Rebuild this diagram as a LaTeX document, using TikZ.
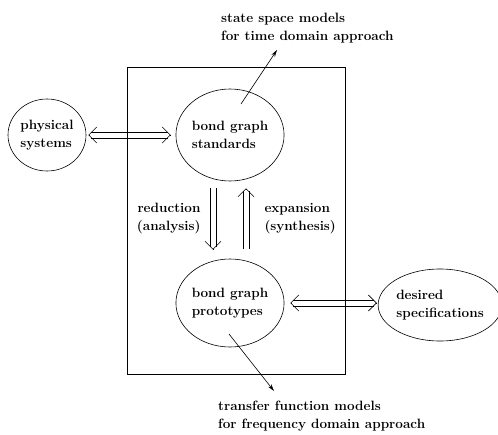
\documentclass[tikz,border=0pt]{standalone}
\usepackage{tikz}
\usetikzlibrary{arrows.meta, positioning, shapes.geometric, calc}

\begin{document}
\begin{tikzpicture}[x=1pt,y=-1pt,
  every node/.style={font=\fontsize{13.5}{18}\bfseries\selectfont},
  blob/.style={draw,ellipse,inner sep=0pt,align=left,line width=0.6pt},
  rail/.style={line width=0.6pt},
  twinhead/.style={line width=0.6pt,-{Straight Barb[length=8pt,width=16pt]}},
  pointer/.style={line width=0.6pt,-{Stealth[length=7pt,width=4pt]}},
  remark/.style={align=left,inner sep=0pt,anchor=north west}]
\useasboundingbox (0,0) rectangle (498,434);
\node[blob,minimum width=78pt,minimum height=72pt] (phys) at (47,135) {physical\\systems};
\node[blob,minimum width=98pt,minimum height=92pt] (std) at (230,135) {bond graph\\standards};
\node[blob,minimum width=98pt,minimum height=88pt] (proto) at (230,303) {bond graph\\prototypes};
\node[blob,minimum width=114pt,minimum height=72pt] (spec) at (440,305) {desired\\specifications};
\node[remark] (ssm) at (221,13) {state space models\\for time domain approach};
\node[remark] (tfm) at (218,401) {transfer function models\\for frequency domain approach};
% end points of the double arrows
\coordinate (ps1) at ($(phys.east)+(2,0)$);
\coordinate (ps2) at ($(std.west)+(-5,0)$);
\coordinate (pd1) at ($(proto.east)+(6,0)$);
\coordinate (pd2) at ($(proto.east -| spec.west)+(-1,0)$);
\coordinate (red1) at ($(std.south)+(-17,7)$);
\coordinate (red2) at ($(proto.north)+(-17,-9)$);
\coordinate (exp1) at ($(proto.north)+(16,-10)$);
\coordinate (exp2) at ($(std.south)+(16,7)$);
% double arrows
\foreach \s in {-3.2,3.2} {
  \draw[rail] ($(ps1)+(3,\s)$) -- ($(ps2)+(-3,\s)$);
  \draw[rail] ($(pd1)+(3,\s)$) -- ($(pd2)+(-3,\s)$);
  \draw[rail] ($(red1)+(\s,0)$) -- ($(red2)+(\s,-3)$);
  \draw[rail] ($(exp1)+(\s,0)$) -- ($(exp2)+(\s,3)$);
}
\draw[twinhead] ($(ps2)!0.3pt!(ps1)$) -- (ps2);
\draw[twinhead] ($(ps1)!0.3pt!(ps2)$) -- (ps1);
\draw[twinhead] ($(pd2)!0.3pt!(pd1)$) -- (pd2);
\draw[twinhead] ($(pd1)!0.3pt!(pd2)$) -- (pd1);
\draw[twinhead] ($(red2)!0.3pt!(red1)$) -- (red2);
\draw[twinhead] ($(exp2)!0.3pt!(exp1)$) -- (exp2);
\node[anchor=east,align=right] (red) at ($(red1)!0.5!(red2)+(-9,0)$) {reduction\\(analysis)};
\node[anchor=west,align=left] (exp) at ($(exp1)!0.5!(exp2)+(15,0)$) {expansion\\(synthesis)};
% model arrows
\draw[pointer] ($(std.center)+(11,-31)$) -- ($(ssm.north west)+(56,37)$);
\draw[pointer] ($(proto.center)+(-1,31)$) -- ($(tfm.north west)+(56,-10)$);
\draw[line width=0.6pt] (127,67) rectangle (345,374);
\end{tikzpicture}
\end{document}
